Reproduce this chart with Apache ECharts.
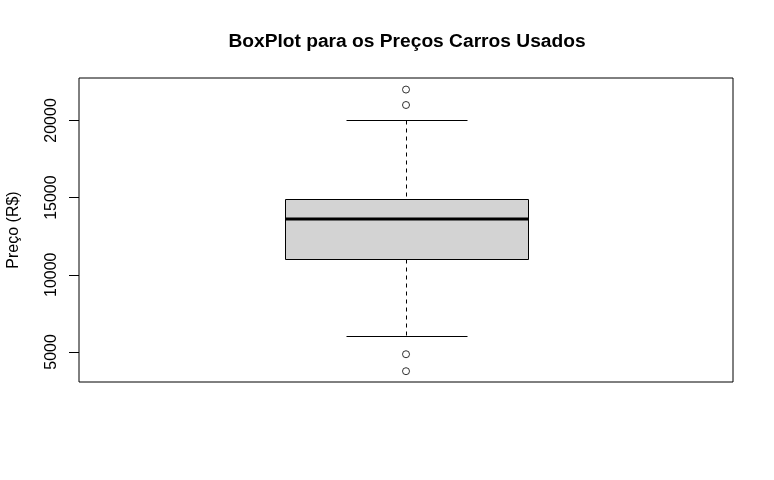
<!DOCTYPE html>
<html>
<head>
<meta charset="utf-8">
<script src="https://cdn.jsdelivr.net/npm/echarts@6/dist/echarts.min.js"></script>
<style>
  html, body { margin: 0; padding: 0; background: #fff; }
  #chart { width: 774px; height: 480px; }
</style>
</head>
<body>
<div id="chart"></div>
<script>
// dados
const categorias = ['Preço'];
// [min, Q1, mediana, Q3, max]
const caixaStats = [[6000, 11000, 13600, 14900, 20000]];
const outliers = [22000, 21000, 4850, 3750];
const yTicks = [5000, 10000, 15000, 20000];

const fonte = 'Liberation Sans, Arial, Helvetica, sans-serif';

function renderBox(params, api) {
  const idx = api.value(0);
  const pMin = api.coord([idx, api.value(1)]);
  const pQ1 = api.coord([idx, api.value(2)]);
  const pMed = api.coord([idx, api.value(3)]);
  const pQ3 = api.coord([idx, api.value(4)]);
  const pMax = api.coord([idx, api.value(5)]);
  const banda = api.size([1, 0])[0];
  const cx = Math.round(pMed[0]) + 0.5;
  const meiaCaixa = banda * 0.371 / 2;
  const meiaCap = meiaCaixa / 2;
  const r = v => Math.round(v) + 0.5;
  const preto = '#000';
  return {
    type: 'group',
    children: [
      // bigodes tracejados
      { type: 'line', shape: { x1: cx, y1: r(pMax[1]), x2: cx, y2: r(pQ3[1]) },
        style: { stroke: preto, lineWidth: 1, lineDash: [4, 4] } },
      { type: 'line', shape: { x1: cx, y1: r(pQ1[1]), x2: cx, y2: r(pMin[1]) },
        style: { stroke: preto, lineWidth: 1, lineDash: [4, 4] } },
      // caps
      { type: 'line', shape: { x1: r(cx - meiaCap), y1: r(pMax[1]), x2: r(cx + meiaCap), y2: r(pMax[1]) },
        style: { stroke: preto, lineWidth: 1 } },
      { type: 'line', shape: { x1: r(cx - meiaCap), y1: r(pMin[1]), x2: r(cx + meiaCap), y2: r(pMin[1]) },
        style: { stroke: preto, lineWidth: 1 } },
      // caixa
      { type: 'rect',
        shape: { x: r(cx - meiaCaixa), y: r(pQ3[1]), width: Math.round(meiaCaixa * 2), height: Math.round(pQ1[1] - pQ3[1]) },
        style: { fill: '#d3d3d3', stroke: preto, lineWidth: 1 } },
      // mediana
      { type: 'line', shape: { x1: r(cx - meiaCaixa), y1: Math.round(pMed[1]), x2: r(cx + meiaCaixa), y2: Math.round(pMed[1]) },
        style: { stroke: preto, lineWidth: 3 } }
    ]
  };
}

const chart = echarts.init(document.getElementById('chart'));
chart.setOption({
  backgroundColor: '#fff',
  animation: false,
  title: {
    text: 'BoxPlot para os Preços Carros Usados',
    left: 402,
    textAlign: 'center',
    top: 27,
    textStyle: { fontFamily: fonte, fontSize: 19.2, fontWeight: 'bold', color: '#000' }
  },
  grid: {
    left: 79, right: 41, top: 78, bottom: 98,
    containLabel: false,
    outerBoundsMode: 'none',
    show: true, borderColor: '#000', borderWidth: 1, backgroundColor: 'transparent'
  },
  xAxis: {
    type: 'category',
    data: categorias,
    show: false
  },
  yAxis: {
    type: 'value',
    min: 3050,
    max: 22750,
    name: 'Preço (R$)',
    nameLocation: 'middle',
    nameRotate: 90,
    nameGap: 57,
    nameTextStyle: { fontFamily: fonte, fontSize: 16, color: '#000' },
    axisLine: { show: false },
    splitLine: { show: false },
    axisTick: { show: true, length: 10, customValues: yTicks, lineStyle: { color: '#000', width: 1 } },
    axisLabel: {
      customValues: yTicks,
      rotate: 90,
      margin: 19,
      formatter: v => String(v),
      fontFamily: fonte,
      fontSize: 16,
      color: '#000'
    }
  },
  series: [
    {
      type: 'custom',
      renderItem: renderBox,
      encode: { x: 0, y: [1, 2, 3, 4, 5] },
      data: caixaStats.map((s, i) => [i].concat(s)),
      z: 2
    },
    {
      type: 'scatter',
      symbol: 'circle',
      symbolSize: 7,
      z: 3,
      itemStyle: { color: '#fff', borderColor: '#000', borderWidth: 1 },
      data: outliers.map(v => [categorias[0], v])
    }
  ]
});
</script>
</body>
</html>
